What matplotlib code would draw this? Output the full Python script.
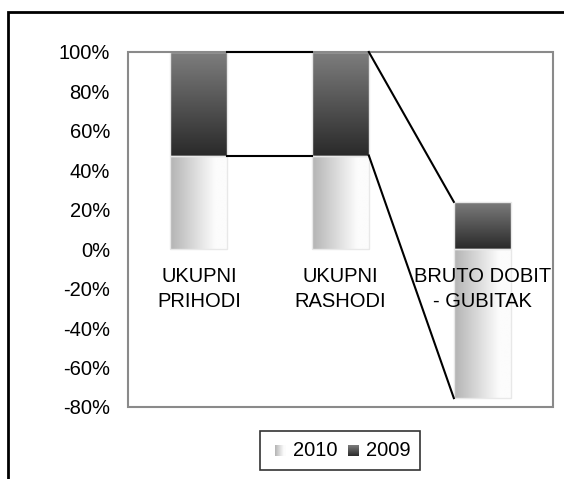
import matplotlib
matplotlib.use("Agg")
import matplotlib.pyplot as plt
import numpy as np
from matplotlib.patches import Rectangle
from matplotlib.image import BboxImage
from matplotlib.transforms import Bbox, TransformedBbox

categories = ["UKUPNI\nPRIHODI", "UKUPNI\nRASHODI", "BRUTO DOBIT\n- GUBITAK"]
s2010 = [47.5, 47.5, -75.5]
s2009 = [52.5, 52.5, 24.0]
series_names = ["2010", "2009"]
yticks = [100, 80, 60, 40, 20, 0, -20, -40, -60, -80]

plt.rcParams['font.family'] = ['Liberation Sans', 'DejaVu Sans']
FS = 14.5

W, H = 564, 479
fig = plt.figure(figsize=(W / 100, H / 100), dpi=100)
ax = fig.add_axes([128 / W, 1 - 407 / H, (553 - 128) / W, (407 - 52) / H])

# outer frame
fig.patches.append(Rectangle((8 / W, -0.05), 1.0, 1 - 12 / H + 0.05, transform=fig.transFigure,
                             fill=False, edgecolor='black', linewidth=2.0))

x = np.arange(len(categories))
width = 0.4

# stacking: positive and negative separately
pos_base = np.zeros(len(x))
neg_base = np.zeros(len(x))
bottoms = {}
for name, vals in zip(series_names, [s2010, s2009]):
    b = []
    for i, v in enumerate(vals):
        if v >= 0:
            b.append(pos_base[i]); pos_base[i] += v
        else:
            b.append(neg_base[i]); neg_base[i] += v
    bottoms[name] = np.array(b)

grad_h = np.linspace(0, 1, 64)[None, :]
grad_v = np.linspace(0, 1, 64)[:, None]


def rgb_grad(g, c0, c1):
    c0 = np.array(c0) / 255.0
    c1 = np.array(c1) / 255.0
    return np.clip(c0 + (c1 - c0) * g[..., None], 0, 1)

img2010 = rgb_grad(np.clip(grad_h * 1.25, 0, 1), (180, 180, 180), (252, 252, 252))
img2010 = np.repeat(img2010, 2, axis=0)
img2009 = rgb_grad(grad_v, (125, 125, 125), (42, 42, 42))
img2009 = np.repeat(img2009, 2, axis=1)

bars = {}
for name, vals, img in zip(series_names, [s2010, s2009], [img2010, img2009]):
    bc = ax.bar(x, vals, width, bottom=bottoms[name], color='none',
                edgecolor='#e8e8e8', linewidth=1.0, zorder=3)
    bars[name] = bc
    for p in bc:
        x0 = p.get_x(); w = p.get_width()
        y0 = p.get_y(); h = p.get_height()
        ylo, yhi = min(y0, y0 + h), max(y0, y0 + h)
        im = ax.imshow(img, extent=[x0, x0 + w, ylo, yhi], origin='upper',
                       aspect='auto', zorder=2, interpolation='bilinear')
        im.set_clip_path(p)

# series lines
for name in series_names:
    bc = bars[name]
    for i in range(len(bc) - 1):
        p, q = bc[i], bc[i + 1]
        ax.plot([p.get_x() + p.get_width(), q.get_x()],
                [p.get_y() + p.get_height(), q.get_y() + q.get_height()],
                color='black', linewidth=1.5, zorder=7, clip_on=False)

ax.spines['bottom'].set_position(('data', 0))
ax.spines['bottom'].set_visible(False)
ax.set_xlim(-0.5, len(x) - 0.5)
ax.set_ylim(-80, 100)
ax.set_yticks(yticks)
ax.set_yticklabels([f"{t}%" for t in yticks], fontsize=FS)
ax.set_xticks(x)
ax.set_xticklabels(categories, fontsize=FS, linespacing=1.4)
ax.tick_params(axis='both', length=0)
ax.tick_params(axis='x', pad=13)
ax.tick_params(axis='y', pad=13)
ax.xaxis.set_zorder(10)

# plot area border
ax.add_patch(Rectangle((0, 0), 1, 1, transform=ax.transAxes, fill=False,
                       edgecolor='#8a8a8a', linewidth=1.5, zorder=5, clip_on=False))
for s in ['left', 'right', 'top']:
    ax.spines[s].set_visible(False)


class GradHandler:
    def __init__(self, img):
        self.img = img

    def legend_artist(self, legend, orig_handle, fontsize, handlebox):
        x0, y0 = handlebox.xdescent, handlebox.ydescent
        w, h = handlebox.width, handlebox.height
        s = min(w, h) * 0.75
        bb = Bbox.from_bounds(-x0 + (w - s), -y0 + (h - s) / 2 - 1.5, s, s)
        bi = BboxImage(TransformedBbox(bb, handlebox.get_transform()), interpolation='bilinear')
        bi.set_data(self.img)
        handlebox.add_artist(bi)
        return bi

h1 = Rectangle((0, 0), 1, 1)
h2 = Rectangle((0, 0), 1, 1)
leg = fig.legend([h1, h2], series_names, loc='upper center',
                 bbox_to_anchor=(340 / W, 1 - 431 / H), ncol=2, fontsize=FS,
                 handler_map={h1: GradHandler(img2010), h2: GradHandler(img2009)},
                 frameon=True, fancybox=False, edgecolor='black', handlelength=0.8,
                 handletextpad=0.35, columnspacing=0.25, borderpad=0.5, borderaxespad=0)
leg.get_frame().set_linewidth(1.2)

fig.savefig("out.png", dpi=100)
